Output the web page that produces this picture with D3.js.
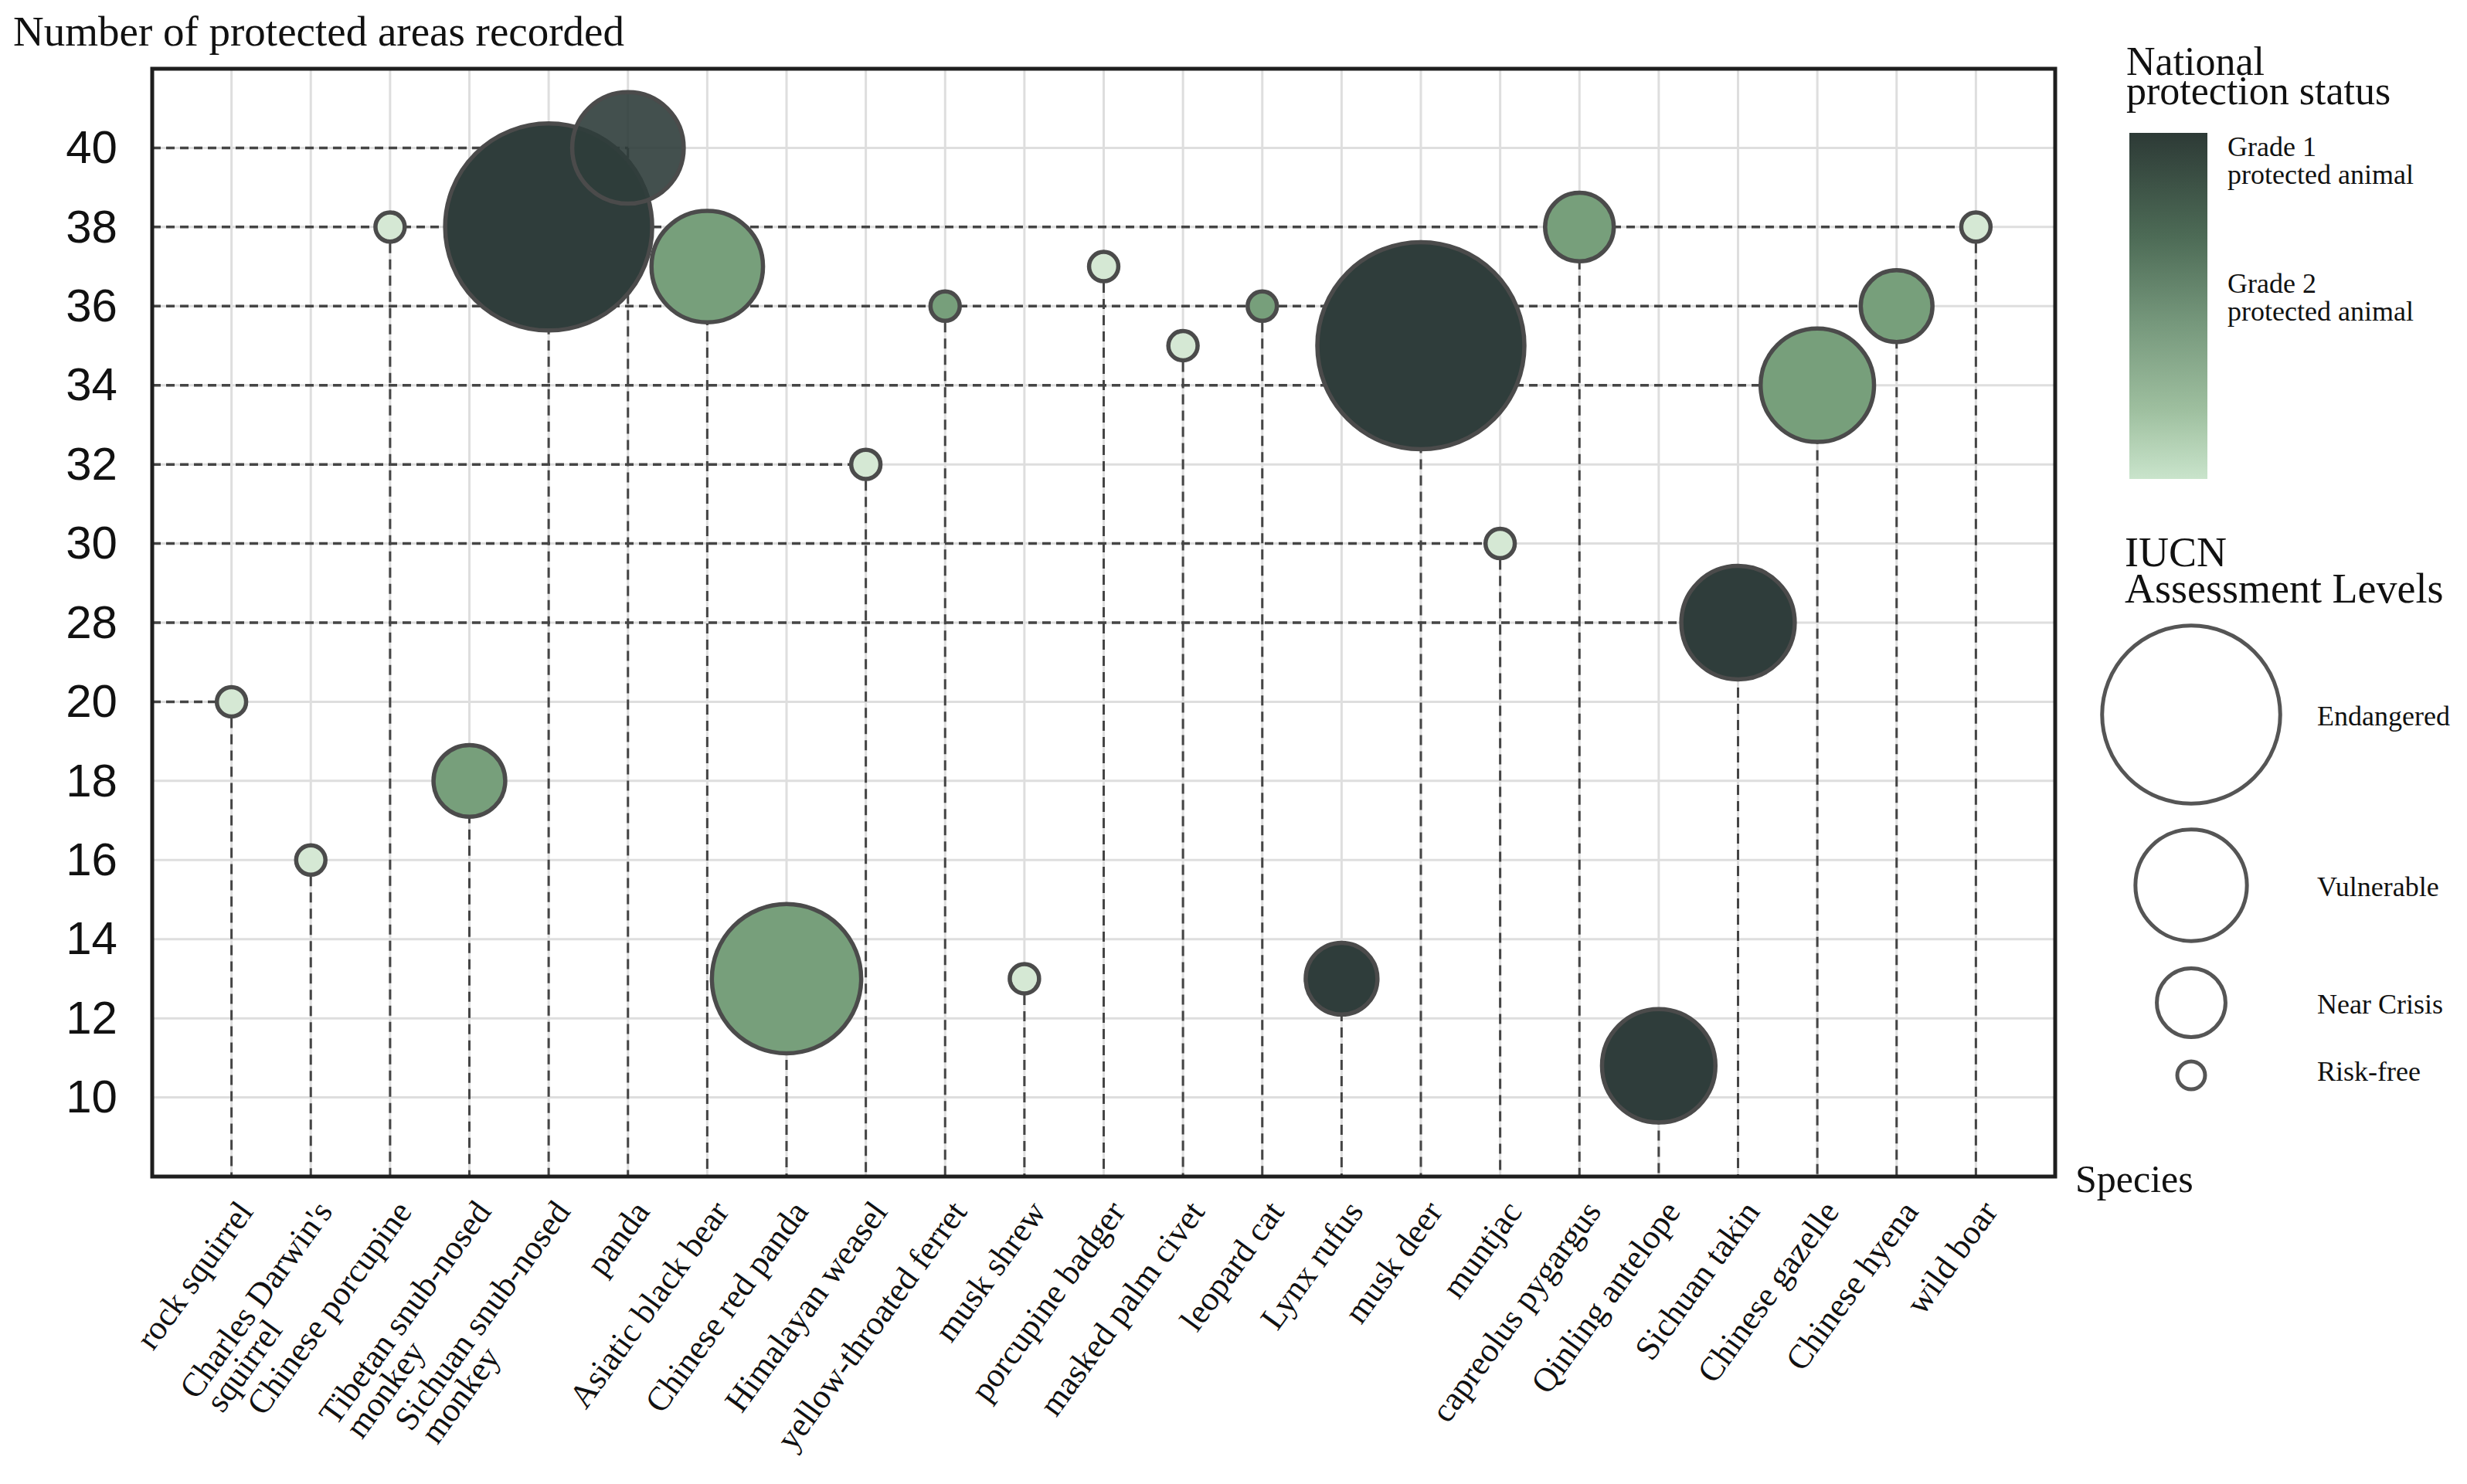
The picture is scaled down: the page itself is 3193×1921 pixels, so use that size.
<!DOCTYPE html>
<html>
<head>
<meta charset="utf-8">
<script src="https://cdn.jsdelivr.net/npm/d3@7"></script>
<style>
  body { margin: 0; background: #fff; }
  svg { display: block; }
</style>
</head>
<body>
<svg id="chart" width="3193" height="1921"></svg>
<script>
// species on the x axis, in drawing order
var species = [
  "rock squirrel", "Charles Darwin's squirrel", "Chinese porcupine",
  "Tibetan snub-nosed monkey", "Sichuan snub-nosed monkey", "panda",
  "Asiatic black bear", "Chinese red panda", "Himalayan weasel",
  "yellow-throated ferret", "musk shrew", "porcupine badger",
  "masked palm civet", "leopard cat", "Lynx rufus", "musk deer", "muntjac",
  "capreolus pygargus", "Qinling antelope", "Sichuan takin",
  "Chinese gazelle", "Chinese hyena", "wild boar"
];

// number of protected areas in which each species was recorded
var protectedAreas = [20, 16, 38, 18, 38, 40, 37, 13, 32, 36, 13, 37, 35, 36, 13, 35, 30, 38, 10.8, 28, 34, 36, 38];

// bubble size index
var bubbleSize = [2, 2, 2, 12, 100, 29, 29, 52, 2, 2, 2, 2, 2, 2, 12, 100, 2, 11, 30, 30, 30, 12, 2];

// national protection: 1 = Grade 1, 2 = Grade 2, 0 = not listed
var protectionGrade = [0, 0, 0, 2, 1, 1, 2, 2, 0, 2, 0, 0, 0, 2, 1, 1, 0, 2, 1, 1, 2, 2, 0];

// y axis is broken between 20 and 28
var yTicks = [10, 12, 14, 16, 18, 20, 28, 30, 32, 34, 36, 38, 40];

// levels that get a dashed guide back to the y axis
var guideLevels = [40, 38, 36, 34, 32, 30, 28, 20];

// legends
var iucnLevels = ["Endangered", "Vulnerable", "Near Crisis", "Risk-free"];
var iucnSize = [74, 29, 11, 1.8];
var gradeLabels = [["Grade 1", "protected animal"], ["Grade 2", "protected animal"]];

(function() {
  var data = species.map(function(s, i) {
    return { name: s, value: protectedAreas[i], size: bubbleSize[i], grade: protectionGrade[i], i: i };
  });

  var svg = d3.select("#chart");
  var pLeft = 197, pRight = 2660, pTop = 89, pBottom = 1523;
  var step = (pBottom - pTop) / 14;

  var x = d3.scalePoint().domain(species).range([pLeft, pRight]).padding(1);
  var y = d3.scaleLinear()
      .domain([8, 10, 20, 28, 40, 42])
      .range([pBottom, pBottom - step, pBottom - 6 * step, pBottom - 7 * step, pBottom - 13 * step, pTop]);
  var r = d3.scaleSqrt().domain([0, 100]).range([0, 134]);
  var color = d3.scaleOrdinal().domain([1, 2, 0]).range(["#2f3d3b", "#779f7b", "#d5e8d4"]);

  var serif = "'Liberation Serif', 'Times New Roman', serif";

  // grid
  var grid = svg.append("g").attr("stroke", "#dedede").attr("stroke-width", 3);
  grid.selectAll(".gy").data(yTicks).join("line")
      .attr("x1", pLeft).attr("x2", pRight)
      .attr("y1", function(d) { return y(d); }).attr("y2", function(d) { return y(d); });
  grid.selectAll(".gx").data(species).join("line")
      .attr("x1", function(d) { return x(d); }).attr("x2", function(d) { return x(d); })
      .attr("y1", pTop).attr("y2", pBottom);

  // dashed guides
  var guides = svg.append("g").attr("stroke", "#454545").attr("fill", "none");
  guides.selectAll(".v").data(data).join("line")
      .attr("stroke-width", 3)
      .attr("stroke-dasharray", "13,8")
      .attr("x1", function(d) { return x(d.name); }).attr("x2", function(d) { return x(d.name); })
      .attr("y1", function(d) { return y(d.value); }).attr("y2", pBottom);
  guides.selectAll(".h").data(guideLevels).join("line")
      .attr("stroke-width", 3.5)
      .attr("stroke-dasharray", "11,7")
      .attr("x1", pLeft)
      .attr("x2", function(v) {
        return d3.max(data.filter(function(d) { return d.value === v; }), function(d) { return x(d.name); });
      })
      .attr("y1", function(v) { return y(v); }).attr("y2", function(v) { return y(v); });

  // bubbles
  svg.append("g").selectAll("circle").data(data).join("circle")
      .attr("cx", function(d) { return x(d.name); })
      .attr("cy", function(d) { return y(d.value); })
      .attr("r", function(d) { return r(d.size); })
      .attr("fill", function(d) { return color(d.grade); })
      .attr("fill-opacity", function(d) { return d.name === "panda" ? 0.9 : 1; })
      .attr("stroke", "#4b4b4b")
      .attr("stroke-width", 5.5);

  // frame
  svg.append("rect")
      .attr("x", pLeft).attr("y", pTop)
      .attr("width", pRight - pLeft).attr("height", pBottom - pTop)
      .attr("fill", "none").attr("stroke", "#1e1e1e").attr("stroke-width", 5);

  // y axis
  var yAxis = svg.append("g")
      .attr("transform", "translate(" + pLeft + ",0)")
      .call(d3.axisLeft(y).tickValues(yTicks).tickSize(0).tickPadding(45));
  yAxis.select(".domain").remove();
  yAxis.selectAll("text")
      .attr("font-family", "'Liberation Sans', Arial, sans-serif")
      .attr("font-size", 60)
      .attr("fill", "#111");

  svg.append("text")
      .attr("x", 17).attr("y", 59)
      .attr("font-family", serif).attr("font-size", 55).attr("fill", "#111")
      .text("Number of protected areas recorded");

  // x labels
  var xl = svg.append("g")
      .attr("font-family", serif).attr("font-size", 44).attr("fill", "#111");
  xl.selectAll("g").data(species).join("g")
      .attr("transform", function(d) { return "translate(" + (x(d) + 19) + "," + (pBottom + 38) + ") rotate(-54)"; })
      .each(function(d) {
        var g = d3.select(this);
        var lines = [d];
        if (d.length > 22) {
          var k = d.lastIndexOf(" ");
          lines = [d.slice(0, k), d.slice(k + 1)];
        }
        var t1 = g.append("text").attr("text-anchor", "end").attr("dy", "0.3em").text(lines[0]);
        if (lines.length > 1) {
          var w = t1.node().getComputedTextLength();
          g.append("text").attr("text-anchor", "start")
              .attr("x", -w + 6).attr("dy", "1.15em").text(lines[1]);
        }
      });

  svg.append("text")
      .attr("x", 2686).attr("y", 1543)
      .attr("font-family", serif).attr("font-size", 50).attr("fill", "#111")
      .text("Species");

  // legend: national protection status
  var lg = svg.append("g").attr("font-family", serif).attr("fill", "#111");
  lg.append("text").attr("x", 2752).attr("y", 97).attr("font-size", 52).text("National");
  lg.append("text").attr("x", 2752).attr("y", 135).attr("font-size", 52).text("protection status");

  var grad = svg.append("defs").append("linearGradient")
      .attr("id", "gradeGrad").attr("x1", 0).attr("y1", 0).attr("x2", 0).attr("y2", 1);
  grad.selectAll("stop").data([
    [0, "#2d3a36"], [0.3, "#4d6b56"], [0.55, "#76987c"], [0.8, "#9ebf9f"], [1, "#c9e4cb"]
  ]).join("stop")
      .attr("offset", function(d) { return d[0]; })
      .attr("stop-color", function(d) { return d[1]; });
  lg.append("rect").attr("x", 2756).attr("y", 172).attr("width", 101).attr("height", 448)
      .attr("fill", "url(#gradeGrad)");

  lg.selectAll(".gl").data(gradeLabels).join("text")
      .attr("font-size", 36)
      .attr("y", function(d, i) { return i === 0 ? 202 : 379; })
      .each(function(d) {
        d3.select(this).selectAll("tspan").data(d).join("tspan")
            .attr("x", 2883)
            .attr("dy", function(t, j) { return j === 0 ? 0 : 36; })
            .text(function(t) { return t; });
      });

  // legend: IUCN assessment levels
  lg.append("text").attr("x", 2750).attr("y", 733).attr("font-size", 54).text("IUCN");
  lg.append("text").attr("x", 2750).attr("y", 780).attr("font-size", 54).text("Assessment Levels");

  var legendY = [925, 1146, 1298, 1392];
  var il = lg.selectAll(".iucn").data(iucnLevels).join("g")
      .attr("transform", function(d, i) { return "translate(0," + legendY[i] + ")"; });
  il.append("circle")
      .attr("cx", 2836)
      .attr("r", function(d, i) { return r(iucnSize[i]); })
      .attr("fill", "#fff").attr("stroke", "#555").attr("stroke-width", 5);
  il.append("text")
      .attr("x", 2999).attr("y", function(d, i) { return i === 3 ? 7 : 14; })
      .attr("font-size", 36)
      .text(function(d) { return d; });
})();
</script>
</body>
</html>
